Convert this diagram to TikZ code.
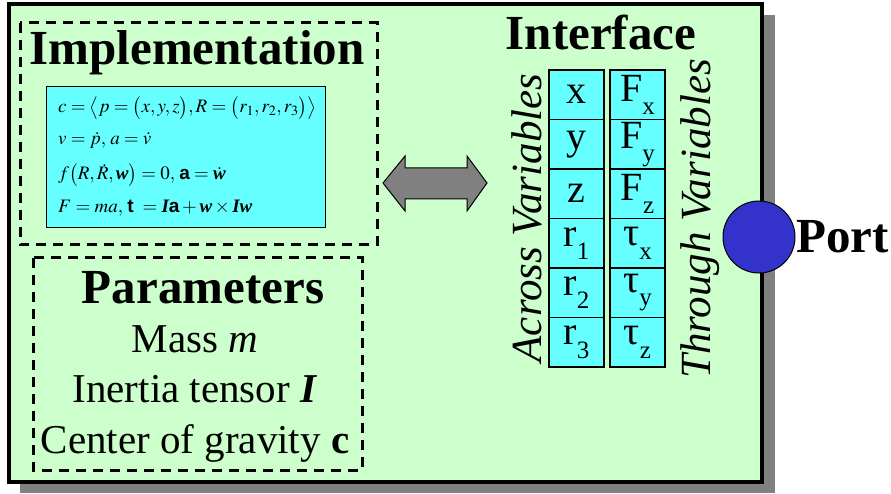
\documentclass[tikz,border=0pt]{standalone}
\usepackage{amsmath}
\usepackage{mathptmx}
\usepackage{fontspec}
\setmainfont{Liberation Serif}
\setsansfont{Liberation Sans}
\definecolor{bgreen}{HTML}{CCFFCC}
\definecolor{cellcyan}{HTML}{66FFFF}
\definecolor{shadowgray}{HTML}{808080}
\definecolor{portblue}{HTML}{3333CC}
\newcommand{\bw}{\text{\bfseries\itshape w}}
\newcommand{\bI}{\text{\bfseries\itshape I}}
\newcommand{\ba}{\text{\bfseries\sffamily a}}
\newcommand{\bt}{\text{\bfseries\sffamily t}}
\newcommand{\cellsub}[2]{#1\raisebox{-0.33em}{\fontsize{25}{25}\selectfont #2}}
\begin{document}
\begin{tikzpicture}[x=1pt,y=-1pt,
  title/.style={font=\fontsize{49}{51}\selectfont\bfseries, inner sep=0pt, anchor=base},
  body/.style={font=\fontsize{41}{43}\selectfont, inner sep=0pt, anchor=base},
  eqline/.style={font=\fontsize{19}{20}\selectfont, inner sep=0pt, anchor=base west},
  side/.style={font=\fontsize{43}{45}\selectfont\itshape, inner sep=0pt, anchor=base, rotate=90},
  dashbox/.style={draw=black, line width=3pt, dash pattern=on 10pt off 7pt},
  cell/.style={draw=black, line width=1.3pt, fill=cellcyan, minimum width=55pt, minimum height=49.5pt, inner sep=0pt, font=\fontsize{40}{42}\selectfont}
]
\useasboundingbox (0,0) rectangle (891,494);
% shadow and main box
\fill[shadowgray] (20,15) rectangle (775,493);
\draw[fill=bgreen, line width=3.5pt] (9,4) rectangle (762,482);
% dashed boxes
\draw[dashbox] (20,23) rectangle (377,245);
\draw[dashbox] (33,258) rectangle (362,470);
% equations box
\draw[fill=cellcyan, line width=1pt] (46,87) rectangle (325,228);
\node[title] (impl) at (197,65) {Implementation};
\node[eqline] (eq1) at (58,113) {$c=\bigl\langle p=\bigl(x,y,z\bigr), R=\bigl(r_1,r_2,r_3\bigr)\bigr\rangle$};
\node[eqline] (eq2) at (58,145) {$v=\dot p,\, a=\dot v$};
\node[eqline] (eq3) at (58,180) {$f\bigl(R,\dot R,\bw\bigr)=0,\, \ba=\dot{\bw}$};
\node[eqline] (eq4) at (58,213) {$F=ma,\, \bt\ =\bI\ba+\bw\times\bI\bw$};
% parameters
\node[title] (params) at (203,303) {Parameters};
\node[body] (mass) at (195,352) {Mass \textit{m}};
\node[body] (inertia) at (195,402) {Inertia tensor \textbf{\textit{I}}};
\node[body] (cog) at (195,453) {Center of gravity \textbf{c}};
% double arrow
\draw[fill=shadowgray, line width=1pt, line join=miter]
  (383,183) -- (405,156) -- (405,168) -- (467,168) -- (467,156) -- (487,183)
  -- (467,211) -- (467,199) -- (405,199) -- (405,211) -- cycle;
% interface
\node[title] (iface) at (601,50) {Interface};
\node[side] (across) at (541,218) {Across Variables};
\node[side] (through) at (710,219) {Through Variables};
\foreach \i/\a/\b in {0/x/{\cellsub{F}{x}},1/y/{\cellsub{F}{y}},2/z/{\cellsub{F}{z}},3/{\cellsub{r}{1}}/{\cellsub{τ}{x}},4/{\cellsub{r}{2}}/{\cellsub{τ}{y}},5/{\cellsub{r}{3}}/{\cellsub{τ}{z}}}{
  \node[cell] (a\i) at (576.5,{94.75+49.5*\i}) {\a};
  \node[cell] (b\i) at (637.5,{94.75+49.5*\i}) {\b};
}
% port
\node[circle, draw=black, line width=1pt, fill=portblue, minimum size=72pt, inner sep=0pt] (port) at (759,237) {};
\node[title, anchor=base west] (portlabel) at (796,253) {Port};
\end{tikzpicture}
\end{document}
